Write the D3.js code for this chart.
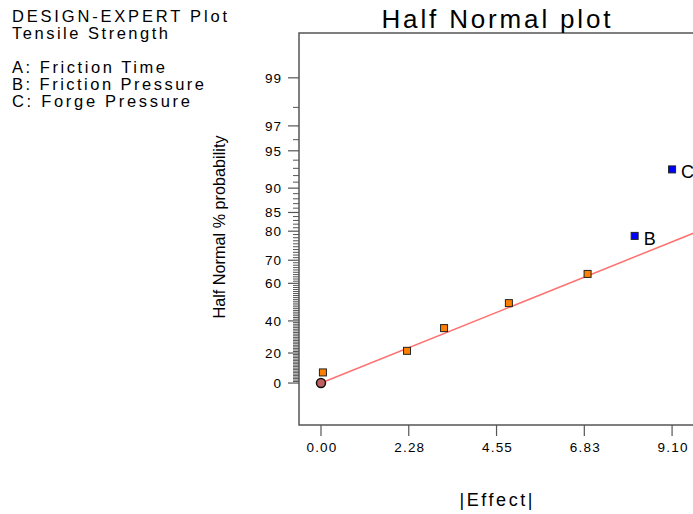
<!DOCTYPE html>
<html><head><meta charset="utf-8">
<script src="https://cdn.jsdelivr.net/npm/d3@7"></script>
<style>body{margin:0;background:#fff;}svg{display:block;font-family:"Liberation Sans",Arial,sans-serif;}</style>
</head><body><svg id="c" width="693" height="514"></svg>
<script>
// ---- data ----
const effectValues = [0.05, 2.23, 3.19, 4.87, 6.91, 8.13, 9.10];
const probValues = [7.14, 21.43, 35.71, 50.00, 64.29, 78.57, 92.86];
const pointTerms = ["", "", "", "", "", "B", "C"];
const pointKinds = ["error", "error", "error", "error", "error", "effect", "effect"];
const originPoint = {effect: 0, prob: 0};
const lineEffect = [0, 9.72];
const lineProb = [0, 79.7];
const xTickValues = [0, 2.275, 4.55, 6.825, 9.10];
const xTickLabels = ["0.00", "2.28", "4.55", "6.83", "9.10"];
const yMajorTicks = [0, 20, 40, 60, 70, 80, 85, 90, 95, 97, 99];
const yMinorTicks = d3.range(1, 99).filter(v => !yMajorTicks.includes(v));
const infoLines = ["DESIGN-EXPERT Plot", "Tensile Strength", "", "A: Friction Time", "B: Friction Pressure", "C: Forge Pressure"];

// inverse normal CDF (Acklam)
function qnorm(p){
  const a=[-3.969683028665376e+01,2.209460984245205e+02,-2.759285104469687e+02,1.383577518672690e+02,-3.066479806614716e+01,2.506628277459239e+00];
  const b=[-5.447609879822406e+01,1.615858368580409e+02,-1.556989798598866e+02,6.680131188771972e+01,-1.328068155288572e+01];
  const c=[-7.784894002430293e-03,-3.223964580411365e-01,-2.400758277161838e+00,-2.549732539343734e+00,4.374664141464968e+00,2.938163982698783e+00];
  const d=[7.784695709041462e-03,3.224671290700398e-01,2.445134137142996e+00,3.754408661907416e+00];
  const pl=0.02425, ph=1-pl; let q,r;
  if(p<pl){q=Math.sqrt(-2*Math.log(p));return (((((c[0]*q+c[1])*q+c[2])*q+c[3])*q+c[4])*q+c[5])/((((d[0]*q+d[1])*q+d[2])*q+d[3])*q+1);}
  if(p<=ph){q=p-0.5;r=q*q;return (((((a[0]*r+a[1])*r+a[2])*r+a[3])*r+a[4])*r+a[5])*q/(((((b[0]*r+b[1])*r+b[2])*r+b[3])*r+b[4])*r+1);}
  q=Math.sqrt(-2*Math.log(1-p));return -(((((c[0]*q+c[1])*q+c[2])*q+c[3])*q+c[4])*q+c[5])/((((d[0]*q+d[1])*q+d[2])*q+d[3])*q+1);
}
const hz = p => qnorm(0.5 + p/200);

const svg = d3.select("#c");
const L=299, R=696, T=33, B=425;
const x = d3.scaleLinear().domain([-0.570, 9.72]).range([L, R]);
const zs = d3.scaleLinear().domain([-0.354, 2.954]).range([B, T]);
const y = p => zs(hz(p));
const axisCol = "#555";

// frame
svg.append("rect").attr("x",L).attr("y",T).attr("width",R-L).attr("height",B-T)
  .attr("fill","none").attr("stroke",axisCol).attr("stroke-width",1.5);

// y minor ticks
svg.append("g").selectAll("line").data(yMinorTicks).join("line")
  .attr("x1",L-6).attr("x2",L).attr("y1",d=>y(d)).attr("y2",d=>y(d))
  .attr("stroke",axisCol).attr("stroke-width",1);
// y major ticks
const ym = svg.append("g");
ym.selectAll("line").data(yMajorTicks).join("line")
  .attr("x1",L-11).attr("x2",L).attr("y1",d=>y(d)).attr("y2",d=>y(d))
  .attr("stroke",axisCol).attr("stroke-width",1.2);
ym.selectAll("text").data(yMajorTicks).join("text")
  .attr("x",L-17).attr("y",d=>y(d)+5).attr("text-anchor","end")
  .attr("font-size",13.5).attr("letter-spacing",1).text(d=>d);

// x ticks
const xg = svg.append("g");
xg.selectAll("line").data(xTickValues).join("line")
  .attr("x1",d=>x(d)).attr("x2",d=>x(d)).attr("y1",B).attr("y2",B+11)
  .attr("stroke",axisCol).attr("stroke-width",1.2);
xg.selectAll("text").data(xTickValues).join("text")
  .attr("x",d=>x(d)+1).attr("y",B+27).attr("text-anchor","middle")
  .attr("font-size",13.5).attr("letter-spacing",1.2).text((d,i)=>xTickLabels[i]);

// fitted line
svg.append("clipPath").attr("id","pc").append("rect").attr("x",L).attr("y",T).attr("width",R-L).attr("height",B-T);
svg.append("path").datum(lineEffect.map((e,i)=>[e,lineProb[i]]))
  .attr("clip-path","url(#pc)")
  .attr("d", d3.line().x(d=>x(d[0])).y(d=>y(d[1])))
  .attr("stroke","#ff7070").attr("stroke-width",1.5).attr("fill","none");

// points
const pts = effectValues.map((e,i)=>({e, p:probValues[i], t:pointTerms[i], k:pointKinds[i]}));
svg.append("g").selectAll("rect").data(pts).join("rect")
  .attr("x",d=>x(d.e)-3.5).attr("y",d=>y(d.p)-3.5).attr("width",7).attr("height",7)
  .attr("fill",d=>d.k==="effect"?"#0000ff":"#ff8000").attr("stroke","#222").attr("stroke-width",1);
svg.append("circle").attr("cx",x(originPoint.effect)).attr("cy",y(originPoint.prob)).attr("r",4.5)
  .attr("fill","#c06060").attr("stroke","#111").attr("stroke-width",1.5);
svg.append("g").selectAll("text").data(pts.filter(d=>d.t)).join("text")
  .attr("x",d=>x(d.e)+9).attr("y",d=>y(d.p)+9).attr("font-size",18).text(d=>d.t);

// title
svg.append("text").attr("x",496).attr("y",28).attr("text-anchor","middle")
  .attr("font-size",26).attr("textLength",229).text("Half Normal plot");
// x label
svg.append("text").attr("x",496).attr("y",506).attr("text-anchor","middle")
  .attr("font-size",18).attr("textLength",73).text("|Effect|");
// y label
svg.append("text").attr("transform","translate(225,227) rotate(-90)").attr("text-anchor","middle")
  .attr("font-size",17).attr("textLength",183).attr("lengthAdjust","spacingAndGlyphs").text("Half Normal % probability");

// info text
const infoWidths = [215, 156, 0, 153, 192, 178];
const baseY = [22, 39, 56, 73, 90, 107];
svg.append("g").selectAll("text").data(infoLines).join("text")
  .attr("x",12).attr("y",(d,i)=>baseY[i]).attr("font-size",16.5)
  .each(function(d,i){ if(d) d3.select(this).attr("textLength",infoWidths[i]); })
  .text(d=>d);
</script></body></html>
